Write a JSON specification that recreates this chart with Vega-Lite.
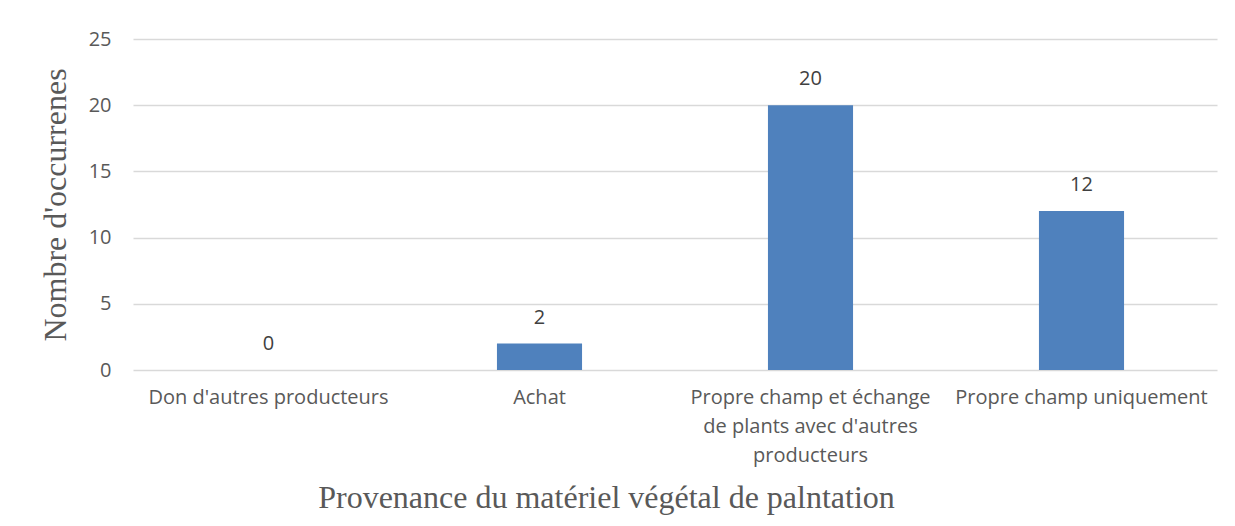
{
  "$schema": "https://vega.github.io/schema/vega-lite/v6.json",
  "width": 1084,
  "height": 331,
  "autosize": {"type": "none"},
  "padding": {"left": 133, "top": 39, "right": 18, "bottom": 156},
  "background": "white",
  "data": {
    "values": [
      {"provenance": "Don d'autres producteurs", "n": 0},
      {"provenance": "Achat", "n": 2},
      {"provenance": "Propre champ et échange de plants avec d'autres producteurs", "n": 20},
      {"provenance": "Propre champ uniquement", "n": 12}
    ]
  },
  "encoding": {
    "x": {
      "field": "provenance",
      "type": "nominal",
      "sort": null,
      "scale": {"paddingInner": 0.686, "paddingOuter": 0.343},
      "axis": {
        "title": "Provenance du matériel végétal de palntation",
        "titleFont": "Liberation Serif",
        "titleFontSize": 32,
        "titleFontWeight": "normal",
        "titleColor": "#595959",
        "titleX": 473,
        "titleY": 137,
        "titleAnchor": null,
        "titleAlign": "center",
        "titleBaseline": "alphabetic",
        "labelAngle": 0,
        "labelFont": "Open Sans",
        "labelFontSize": 20,
        "labelColor": "#595959",
        "labelPadding": 17,
        "labelBaseline": "top",
        "labelLineHeight": 29,
        "labelLimit": 300,
        "labelExpr": "datum.value === \"Propre champ et échange de plants avec d'autres producteurs\" ? [\"Propre champ et échange\", \"de plants avec d'autres\", \"producteurs\"] : datum.label",
        "ticks": false,
        "domain": false
      }
    },
    "y": {
      "field": "n",
      "type": "quantitative",
      "scale": {"domain": [0, 25], "nice": false},
      "axis": {
        "title": "Nombre d'occurrenes",
        "titleFont": "Liberation Serif",
        "titleFontSize": 32,
        "titleFontWeight": "normal",
        "titleColor": "#595959",
        "titleAngle": -90,
        "titleX": -78,
        "titleY": 165.5,
        "titleAlign": "center",
        "titleBaseline": "middle",
        "values": [0, 5, 10, 15, 20, 25],
        "labelFont": "Open Sans",
        "labelFontSize": 20,
        "labelColor": "#595959",
        "labelPadding": 22,
        "ticks": false,
        "domain": false,
        "gridColor": "#D9D9D9",
        "gridWidth": 1.3
      }
    }
  },
  "layer": [
    {"mark": {"type": "bar", "color": "#4F81BD"}},
    {
      "mark": {"type": "text", "font": "Open Sans", "fontSize": 20, "color": "#404040", "baseline": "middle", "dy": -26},
      "encoding": {"text": {"field": "n", "type": "quantitative"}}
    }
  ],
  "config": {"view": {"stroke": null}}
}
